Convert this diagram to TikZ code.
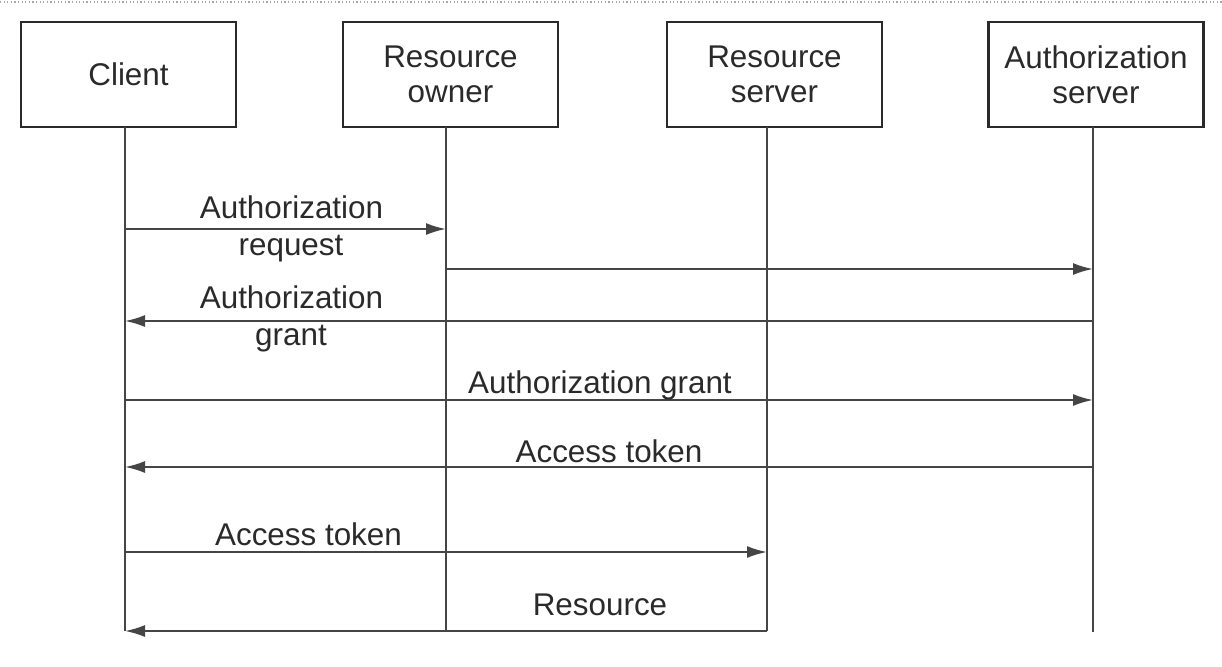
\documentclass[tikz,border=0pt]{standalone}
\usepackage{fontspec}
\setmainfont{Liberation Sans}
\usetikzlibrary{arrows.meta}
\definecolor{ink}{HTML}{2A2A2A}
\definecolor{wire}{HTML}{454545}
\begin{document}
\begin{tikzpicture}[x=0.5pt,y=-0.5pt,
  actor/.style={draw=ink,line width=1.1pt,fill=white,minimum width=107.5pt,
    minimum height=52.5pt,align=center,inner sep=0pt,text=ink,
    font=\fontsize{15.7}{17.5}\selectfont},
  life/.style={draw=wire,line width=1pt},
  msg/.style={draw=wire,line width=1pt,-{Latex[length=10pt,width=6pt]}},
  lbl/.style={anchor=base,inner sep=0pt,text=ink,font=\fontsize{15.7}{17.5}\selectfont}]
\useasboundingbox (0,0) rectangle (1222,666);
\draw[gray!70,line width=0.6pt,dash pattern=on 0.6pt off 1.2pt] (0,2) -- (1222,2);

% actors
\node[actor] (cl) at (128.5,74.5) {Client};
\node[actor] (ro) at (450.5,74.5) {Resource\\owner};
\node[actor] (rs) at (774.5,74.5) {Resource\\server};
\node[actor] (as) at (1096,74.5) {Authorization\\server};

% lifeline coordinates
\coordinate (clT) at (125,127); \coordinate (clB) at (125,631);
\coordinate (roT) at (446,127); \coordinate (roB) at (446,631);
\coordinate (rsT) at (767,127); \coordinate (rsB) at (767,631);
\coordinate (asT) at (1093,127); \coordinate (asB) at (1093,632);
\draw[life] (clT) -- (clB);
\draw[life] (roT) -- (roB);
\draw[life] (rsT) -- (rsB);
\draw[life] (asT) -- (asB);

% message end points
\coordinate (m1a) at (125,229); \coordinate (m1b) at (446,229);
\coordinate (m2a) at (446,269); \coordinate (m2b) at (1093,269);
\coordinate (m3a) at (1093,321); \coordinate (m3b) at (125,321);
\coordinate (m4a) at (125,400); \coordinate (m4b) at (1093,400);
\coordinate (m5a) at (1093,467); \coordinate (m5b) at (125,467);
\coordinate (m6a) at (125,552); \coordinate (m6b) at (767,552);
\coordinate (m7a) at (767,631); \coordinate (m7b) at (125,631);

\draw[msg] (m1a) -- (m1b);
\draw[msg] (m2a) -- (m2b);
\draw[msg] (m3a) -- (m3b);
\draw[msg] (m4a) -- (m4b);
\draw[msg] (m5a) -- (m5b);
\draw[msg] (m6a) -- (m6b);
\draw[msg] (m7a) -- (m7b);

% labels
\node[lbl] (l1a) at (291.5,218) {Authorization};
\node[lbl] (l1b) at (291,255) {request};
\node[lbl] (l3a) at (291.5,308) {Authorization};
\node[lbl] (l3b) at (291,345) {grant};
\node[lbl] (l4) at (600,393) {Authorization grant};
\node[lbl] (l5) at (609,462) {Access token};
\node[lbl] (l6) at (308.5,545) {Access token};
\node[lbl] (l7) at (600,615) {Resource};
\end{tikzpicture}
\end{document}
